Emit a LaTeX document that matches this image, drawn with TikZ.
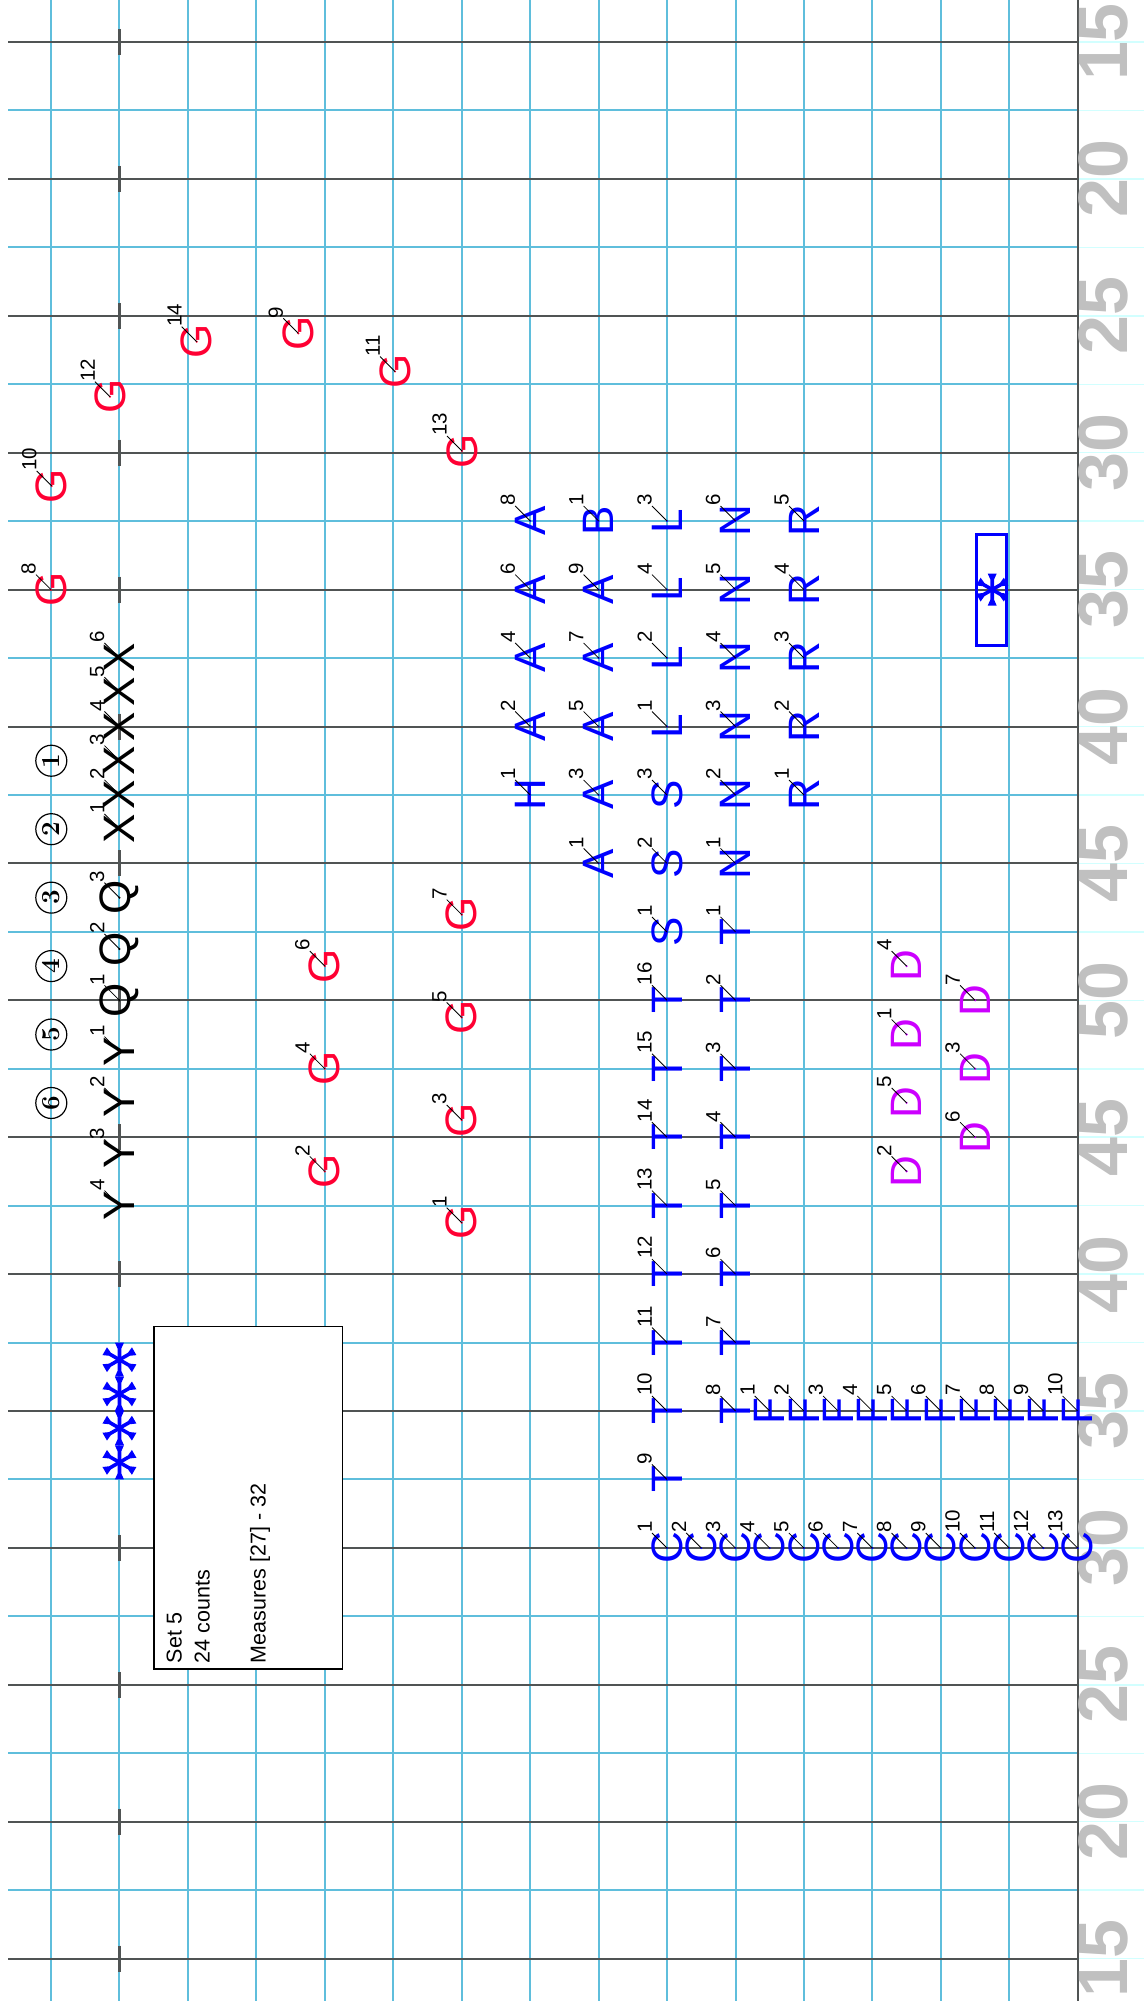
\documentclass[tikz,border=0pt]{standalone}
\usepackage{fontspec}
\newfontfamily\sansf{Liberation Sans}
\definecolor{gridblue}{RGB}{95,190,220}
\definecolor{darkline}{RGB}{80,84,84}
\definecolor{faintcyan}{RGB}{210,255,255}
\definecolor{numgray}{RGB}{192,192,192}
\definecolor{gred}{RGB}{255,0,51}
\definecolor{dmag}{RGB}{204,0,255}
\newcommand\marcher[5]{%
  \node[lett, text=#1] (m#2#3) at (#4,#5) {#2};
  \fill[#1] (m#2#3.center) circle (1.2pt);
  \draw[lead] (m#2#3.center) -- ++(-15,-15) coordinate (e#2#3);
  \node[num] (n#2#3) at (e#2#3) {#3};
}
\newcommand\drillstar[3]{%
  \foreach \a in {30,90,150,210,270,330} {
    \fill[blue, shift={(#1,#2)}, rotate=\a]
      (0,-1.8) -- ({#3-6},-1.8) -- (#3,-4.5) -- (#3,4.5) -- ({#3-6},1.8) -- (0,1.8) -- cycle;
  }
}
\begin{document}
\begin{tikzpicture}[x=1pt,y=-1pt,
  lett/.style={rotate=90, inner sep=0pt, font=\sansf\fontsize{44}{44}\selectfont},
  num/.style={rotate=90, anchor=south west, inner sep=0pt, text=black, font=\sansf\fontsize{20.5}{20.5}\selectfont},
  lead/.style={black, line width=0.8pt},
  gridb/.style={gridblue, line width=2pt},
  gridd/.style={darkline, line width=2pt},
  yardnum/.style={rotate=90, anchor=base, inner sep=0pt, text=numgray, font=\sansf\bfseries\fontsize{70}{70}\selectfont},
  boxtext/.style={rotate=90, anchor=base west, inner sep=0pt, text=black, font=\sansf\fontsize{21.5}{21.5}\selectfont},
  circnum/.style={circle, draw=black, line width=1.2pt, minimum size=31pt, inner sep=0pt},
  circdig/.style={rotate=90, inner sep=0pt, font=\bfseries\fontsize{26}{26}\selectfont}
]
\useasboundingbox (0,0) rectangle (1144,2001);
\fill[white] (0,0) rectangle (1144,2001);
% faint lines beyond the sideline
\foreach \j in {0,...,28} \draw[faintcyan, line width=1.5pt] (1077.75,{42+68.45*\j}) -- (1144,{42+68.45*\j});
% grid
\foreach \j in {1,3,...,27} \draw[gridb] (8,{42+68.45*\j}) -- (1077.75,{42+68.45*\j});
\foreach \i in {0,...,14} \draw[gridb] ({51+68.45*\i},0) -- ({51+68.45*\i},2001);
\foreach \j in {0,2,...,28} \draw[gridd] (8,{42+68.45*\j}) -- (1077.75,{42+68.45*\j});
\draw[gridd] (1077.75,0) -- (1077.75,2001);
\foreach \j in {0,2,...,28} \draw[darkline, line width=3pt] (119.45,{42+68.45*\j-13}) -- (119.45,{42+68.45*\j+13});
% yard numbers
\foreach \j/\n in {0/15,2/20,4/25,6/30,8/35,10/40,12/45,14/50,16/45,18/40,20/35,22/30,24/25,26/20,28/15}
  \node[yardnum] (yn\j) at (1127.7,{42+68.45*\j}) {\n};
% set box
\node[draw=black, fill=white, line width=1.2pt, minimum width=188.4pt, minimum height=342.6pt, inner sep=0pt, anchor=north west] (setbox) at (153.3,1325.7) {};
\node[boxtext] (t1) at (181.7,1663.3) {Set 5};
\node[boxtext] (t2) at (209.7,1663.3) {24 counts};
\node[boxtext] (t3) at (265.7,1663.3) {Measures [27] - 32};
% circled numbers
\foreach \k/\jj in {1/10.5,2/11.5,3/12.5,4/13.5,5/14.5,6/15.5} {
  \node[circnum] (circ\k) at (51.3,{42+68.45*\jj}) {};
  \node[circdig] (circd\k) at (circ\k.center) {\k};
}
% stars
\foreach \k in {0,...,3} {\drillstar{119.45}{1359.7+34.22*\k}{17}}
\node[draw=blue, line width=2.5pt, minimum width=30pt, minimum height=111pt, inner sep=0pt] (starbox) at (991.7,589.9) {};
\drillstar{992.2}{589.6}{16}
% red G
\marcher{gred}{G}{1}{461.7}{1222.7}
\marcher{gred}{G}{2}{324.8}{1171.4}
\marcher{gred}{G}{3}{461.7}{1120}
\marcher{gred}{G}{4}{324.8}{1068.7}
\marcher{gred}{G}{5}{461.7}{1017.4}
\marcher{gred}{G}{6}{324.8}{966}
\marcher{gred}{G}{7}{461.7}{914.6}
\marcher{gred}{G}{8}{51}{589.6}
\marcher{gred}{G}{9}{298.3}{333.3}
\marcher{gred}{G}{10}{51.7}{486}
\marcher{gred}{G}{11}{395}{371.5}
\marcher{gred}{G}{12}{110}{396.7}
\marcher{gred}{G}{13}{462}{451}
\marcher{gred}{G}{14}{196.7}{341.7}
% black Y Q X
\marcher{black}{Y}{1}{119.45}{1051.6}
\marcher{black}{Y}{2}{119.45}{1103}
\marcher{black}{Y}{3}{119.45}{1154.3}
\marcher{black}{Y}{4}{119.45}{1205.6}
\marcher{black}{Q}{1}{119.45}{1000.3}
\marcher{black}{Q}{2}{119.45}{949}
\marcher{black}{Q}{3}{119.45}{897.7}
\marcher{black}{X}{1}{119.45}{829}
\marcher{black}{X}{2}{119.45}{794.8}
\marcher{black}{X}{3}{119.45}{760.6}
\marcher{black}{X}{4}{119.45}{726.4}
\marcher{black}{X}{5}{119.45}{692.2}
\marcher{black}{X}{6}{119.45}{658}
% blue block
\marcher{blue}{A}{8}{530.2}{521}
\marcher{blue}{A}{6}{530.2}{589.6}
\marcher{blue}{A}{4}{530.2}{658}
\marcher{blue}{A}{2}{530.2}{726.5}
\marcher{blue}{H}{1}{530.2}{795}
\marcher{blue}{B}{1}{598.6}{521}
\marcher{blue}{A}{9}{598.6}{589.6}
\marcher{blue}{A}{7}{598.6}{658}
\marcher{blue}{A}{5}{598.6}{726.5}
\marcher{blue}{A}{3}{598.6}{795}
\marcher{blue}{A}{1}{598.6}{863.4}
\marcher{blue}{L}{3}{667}{521}
\marcher{blue}{L}{4}{667}{589.6}
\marcher{blue}{L}{2}{667}{658}
\marcher{blue}{L}{1}{667}{726.5}
\marcher{blue}{S}{3}{667}{795}
\marcher{blue}{S}{2}{667}{863.4}
\marcher{blue}{S}{1}{667}{932}
\marcher{blue}{N}{6}{735.5}{521}
\marcher{blue}{N}{5}{735.5}{589.6}
\marcher{blue}{N}{4}{735.5}{658}
\marcher{blue}{N}{3}{735.5}{726.5}
\marcher{blue}{N}{2}{735.5}{795}
\marcher{blue}{N}{1}{735.5}{863.4}
\marcher{blue}{R}{5}{804}{521}
\marcher{blue}{R}{4}{804}{589.6}
\marcher{blue}{R}{3}{804}{658}
\marcher{blue}{R}{2}{804}{726.5}
\marcher{blue}{R}{1}{804}{795}
% T rows
\foreach \n/\jj in {16/14,15/15,14/16,13/17,12/18,11/19,10/20,9/21}
  {\pgfmathsetmacro\yy{42+68.45*\jj}\marcher{blue}{T}{\n}{667}{\yy}}
\foreach \n/\jj in {1/13,2/14,3/15,4/16,5/17,6/18,7/19,8/20}
  {\pgfmathsetmacro\yy{42+68.45*\jj}\marcher{blue}{T}{\n}{735.5}{\yy}}
% F row
\foreach \k in {1,...,10}
  {\pgfmathsetmacro\xx{769.7+34.22*(\k-1)}\marcher{blue}{F}{\k}{\xx}{1411}}
% C row
\foreach \k in {1,...,13}
  {\pgfmathsetmacro\xx{667+34.22*(\k-1)}\marcher{blue}{C}{\k}{\xx}{1548}}
% magenta D
\marcher{dmag}{D}{4}{906.6}{966.1}
\marcher{dmag}{D}{1}{906.6}{1034.5}
\marcher{dmag}{D}{5}{906.6}{1102.9}
\marcher{dmag}{D}{2}{906.6}{1171.3}
\marcher{dmag}{D}{7}{975.1}{1000.3}
\marcher{dmag}{D}{3}{975.1}{1068.75}
\marcher{dmag}{D}{6}{975.1}{1137.2}
\end{tikzpicture}
\end{document}
